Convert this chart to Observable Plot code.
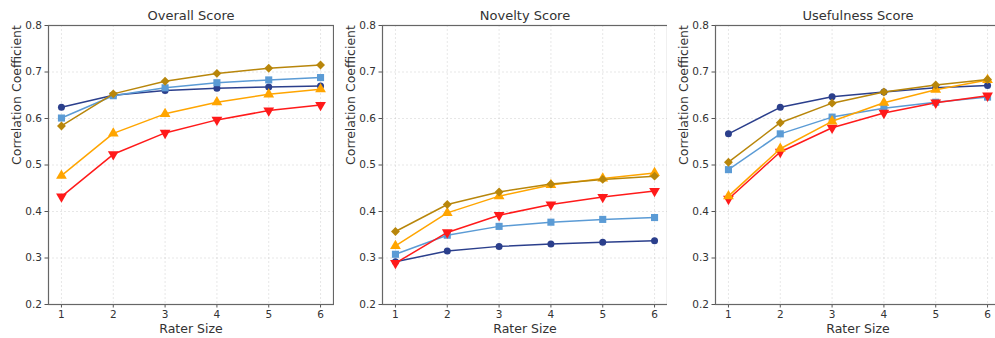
<!DOCTYPE html>
<html>
<head>
<meta charset="utf-8">
<script src="https://cdn.jsdelivr.net/npm/d3@7"></script>
<script src="https://cdn.jsdelivr.net/npm/@observablehq/plot@0.6"></script>
<style>
  html, body { margin: 0; padding: 0; background: #fff; }
  #wrap { position: relative; width: 995px; height: 338px; overflow: hidden; background: #fff; }
  .panel { position: absolute; top: 0; width: 334px; height: 338px; }
  .panel svg { font-family: "DejaVu Sans", sans-serif; max-width: none !important; display: block; }
  .panel svg text { font-weight: normal; }
</style>
</head>
<body>
<div id="wrap"></div>
<script>
// Categories / ticks
const raterSizes = [1, 2, 3, 4, 5, 6];
const yTicks = [0.2, 0.3, 0.4, 0.5, 0.6, 0.7, 0.8];
const panelTitles = ["Overall Score", "Novelty Score", "Usefulness Score"];
const seriesNames = ["Series 1", "Series 2", "Series 3", "Series 4", "Series 5"];
const seriesColors = ["#2b3f8c", "#5b9bd5", "#ff1a1a", "#ffa500", "#b8860b"];
const seriesSymbols = ["circle", "square", "triangle", "triangle", "diamond2"];
const seriesRotate = [0, 0, 180, 0, 0];

// Overall Score
const overallS1 = [0.624, 0.650, 0.660, 0.665, 0.668, 0.670];
const overallS2 = [0.601, 0.649, 0.666, 0.677, 0.683, 0.688];
const overallS3 = [0.432, 0.523, 0.569, 0.597, 0.617, 0.629];
const overallS4 = [0.477, 0.568, 0.610, 0.635, 0.652, 0.663];
const overallS5 = [0.584, 0.653, 0.680, 0.697, 0.708, 0.715];

// Novelty Score
const noveltyS1 = [0.292, 0.315, 0.325, 0.330, 0.334, 0.337];
const noveltyS2 = [0.308, 0.349, 0.368, 0.377, 0.383, 0.387];
const noveltyS3 = [0.289, 0.355, 0.392, 0.415, 0.431, 0.444];
const noveltyS4 = [0.326, 0.397, 0.433, 0.457, 0.471, 0.483];
const noveltyS5 = [0.357, 0.415, 0.442, 0.459, 0.469, 0.476];

// Usefulness Score
const usefulS1 = [0.567, 0.624, 0.647, 0.657, 0.666, 0.671];
const usefulS2 = [0.490, 0.567, 0.603, 0.622, 0.635, 0.646];
const usefulS3 = [0.427, 0.528, 0.580, 0.612, 0.634, 0.649];
const usefulS4 = [0.433, 0.535, 0.594, 0.634, 0.662, 0.683];
const usefulS5 = [0.506, 0.591, 0.633, 0.657, 0.672, 0.684];

const panels = [
  [overallS1, overallS2, overallS3, overallS4, overallS5],
  [noveltyS1, noveltyS2, noveltyS3, noveltyS4, noveltyS5],
  [usefulS1, usefulS2, usefulS3, usefulS4, usefulS5]
];

const wrap = document.getElementById("wrap");
const lefts = [0, 333.5, 667];

panels.forEach((seriesList, p) => {
  const marks = [
    Plot.gridX(raterSizes, {stroke: "#bbb", strokeOpacity: 0.35, strokeDasharray: "2,2"}),
    Plot.gridY(yTicks, {stroke: "#bbb", strokeOpacity: 0.35, strokeDasharray: "2,2"}),
    Plot.axisX(raterSizes, {tickSize: 3.5, tickPadding: 3, stroke: "#555", fill: "#333", fontSize: 10.5, label: null}),
    Plot.axisY(yTicks, {tickSize: 3.5, tickPadding: 3, stroke: "#555", fill: "#333", fontSize: 10.5, tickFormat: d3.format(".1f"), label: null})
  ];
  seriesList.forEach((vals, s) => {
    const rows = raterSizes.map((r, i) => ({rater: r, value: vals[i], series: seriesNames[s]}));
    marks.push(Plot.line(rows, {x: "rater", y: "value", stroke: seriesColors[s], strokeWidth: 1.5}));
    marks.push(Plot.dot(rows, {x: "rater", y: "value", fill: seriesColors[s], stroke: "none",
      symbol: seriesSymbols[s], r: seriesSymbols[s] === "circle" ? 3.5 : 4, rotate: seriesRotate[s]}));
  });
  marks.push(Plot.frame({stroke: "#666", strokeWidth: 1.2}));
  marks.push(Plot.text([panelTitles[p]], {frameAnchor: "top", lineAnchor: "middle", dy: -10, fontSize: 13, fontWeight: "normal", fill: "#333"}));
  marks.push(Plot.text(["Rater Size"], {frameAnchor: "bottom", lineAnchor: "middle", dy: 24, fontSize: 12.5, fontWeight: "normal", fill: "#333"}));
  marks.push(Plot.text(["Correlation Coefficient"], {frameAnchor: "left", lineAnchor: "middle", dx: -32, rotate: -90, fontSize: 12.5, fontWeight: "normal", fill: "#333"}));

  const chart = Plot.plot({
    width: 334,
    height: 338,
    marginLeft: 48,
    marginRight: 1,
    marginTop: 25,
    marginBottom: 34,
    style: {background: "#fff", fontFamily: "DejaVu Sans, sans-serif", maxWidth: "none"},
    x: {domain: [0.75, 6.25], label: null},
    y: {domain: [0.2, 0.8], label: null},
    marks
  });
  const div = document.createElement("div");
  div.className = "panel";
  div.style.left = lefts[p] + "px";
  div.appendChild(chart);
  wrap.appendChild(div);
});
</script>
</body>
</html>
